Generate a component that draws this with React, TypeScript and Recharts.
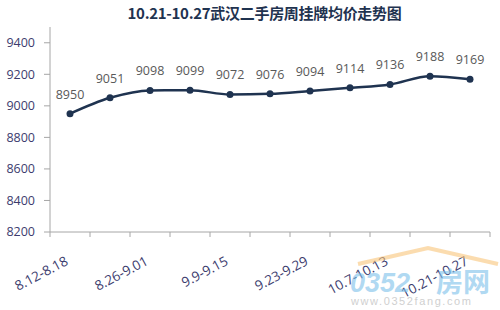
import React from 'react';
import { LineChart, Line, XAxis, YAxis, LabelList } from 'recharts';

const weeks = ['8.12-8.18', '8.19-8.25', '8.26-9.01', '9.2-9.8', '9.9-9.15', '9.16-9.22', '9.23-9.29', '9.30-10.6', '10.7-10.13', '10.14-10.20', '10.21-10.27'];
const prices = [8950, 9051, 9098, 9099, 9072, 9076, 9094, 9114, 9136, 9188, 9169];
const yTicks = [8200, 8400, 8600, 8800, 9000, 9200, 9400];
const title = '10.21-10.27武汉二手房周挂牌均价走势图';

const data = weeks.map((w, i) => ({ pos: i + 0.5, week: w, price: prices[i] }));
const xTicks: number[] = [];
for (let i = 0; i <= weeks.length; i++) {
  xTicks.push(i);
  if (i < weeks.length && i % 2 === 0) xTicks.push(i + 0.5);
}

const AXIS = '#a6a6a6';
const LABEL = '#3c3c6e';
const LINE = '#1f3350';

const XTick = (props: any) => {
  const { x, y, payload } = props;
  const v = payload.value;
  if (Number.isInteger(v)) {
    return <line x1={x} y1={y} x2={x} y2={y + 5} stroke={AXIS} strokeWidth={1} />;
  }
  const idx = Math.floor(v);
  const ax = x - 1;
  const ay = y + 32;
  return (
    <text x={ax} y={ay} textAnchor="end" fill={LABEL} fontSize={13.5} fontFamily="'Open Sans', sans-serif" transform={`rotate(-28 ${ax} ${ay})`}>
      {weeks[idx]}
    </text>
  );
};

export default function App() {
  return (
    <div style={{ position: 'absolute', left: 0, top: 0, width: 500, height: 310, background: '#fff', overflow: 'hidden' }}>
      <div style={{ position: 'absolute', left: 0, top: 3, width: 529, textAlign: 'center', fontFamily: "'Noto Sans CJK SC', sans-serif", fontWeight: 700, fontSize: 15, color: '#1f3350', lineHeight: '20px', letterSpacing: -0.3 }}>
        {title}
      </div>
      <LineChart width={500} height={310} data={data} margin={{ top: 27, right: 10, bottom: 0, left: 0 }}>
        <XAxis dataKey="pos" type="number" domain={[0, weeks.length]} ticks={xTicks} interval={0} height={78} axisLine={{ stroke: AXIS }} tickLine={false} tickSize={0} tickMargin={0} tick={<XTick />} />
        <YAxis type="number" domain={[8200, 9500]} ticks={yTicks} interval={0} width={50} axisLine={{ stroke: AXIS }} tickLine={{ stroke: AXIS }} tickSize={6} tickMargin={9} tick={{ fill: LABEL, fontSize: 12.5, fontFamily: "'Open Sans', sans-serif" }} />
        <Line type="monotone" dataKey="price" stroke={LINE} strokeWidth={2.5} dot={{ r: 3.5, fill: LINE, stroke: LINE, strokeWidth: 0 }} isAnimationActive={false}>
          <LabelList dataKey="price" position="top" offset={15} fill="#595959" fontSize={12.5} fontFamily="'Open Sans', sans-serif" />
        </Line>
      </LineChart>
      <svg width={500} height={310} style={{ position: 'absolute', left: 0, top: 0, pointerEvents: 'none' }}>
        <polyline points="358,264 428,248 498,264" fill="none" stroke="#f8c57a" strokeWidth={4} opacity={0.6} />
        <text x={350} y={292} fontSize={27} fontWeight={700} fontStyle="italic" fill="#7cc0ea" opacity={0.6} fontFamily="'Liberation Sans', sans-serif">0352</text>
        <text x={436} y={292} fontSize={27} fontWeight={700} fill="#7cc0ea" opacity={0.6} fontFamily="'Noto Sans CJK SC', sans-serif">房网</text>
        <text x={351} y={305} fontSize={11} letterSpacing={1.6} fill="#d0d0d0" fontFamily="'Liberation Sans', sans-serif">www.0352fang.com</text>
      </svg>
    </div>
  );
}
